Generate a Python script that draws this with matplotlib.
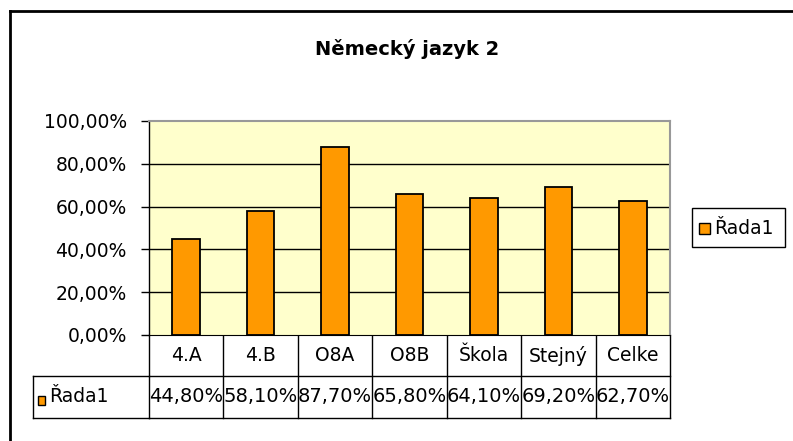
import matplotlib
matplotlib.use("Agg")
import matplotlib.pyplot as plt
from matplotlib.transforms import blended_transform_factory
from matplotlib.patches import Rectangle
from matplotlib.ticker import FuncFormatter

title = "Německý jazyk 2"
categories = ["4.A", "4.B", "O8A", "O8B", "Škola", "Stejný", "Celke"]
values = [44.80, 58.10, 87.70, 65.80, 64.10, 69.20, 62.70]
series_name = "Řada1"
y_ticks = [0, 20, 40, 60, 80, 100]

W, H = 793, 441
plt.rcParams['font.family'] = ['DejaVu Sans']
fig = plt.figure(figsize=(W / 100, H / 100), dpi=100)
fig.patch.set_facecolor("white")

# overlay in pixel coordinates
ov = fig.add_axes([0, 0, 1, 1], zorder=0)
ov.set_xlim(0, W)
ov.set_ylim(H, 0)
ov.axis("off")
ov.patch.set_alpha(0)

# plot area
px_l, px_r, px_t, px_b = 149, 670, 121, 335
ax = fig.add_axes([px_l / W, (H - px_b) / H, (px_r - px_l) / W, (px_b - px_t) / H], zorder=1)
ax.set_facecolor("#FFFFCC")
n = len(categories)
ax.set_xlim(-0.5, n - 0.5)
ax.set_ylim(0, 100)
ax.set_yticks(y_ticks)
ax.yaxis.set_major_formatter(FuncFormatter(lambda v, p: f"{v:.2f}".replace(".", ",") + "%"))
ax.tick_params(axis="y", length=6, width=1, color="black", labelsize=13.5, pad=10, labelcolor="black")
ax.set_xticks([])
for yv in y_ticks[1:-1]:
    ax.axhline(yv, color="black", lw=1, zorder=1)
ax.bar(range(n), values, width=0.37, color="#FF9900", edgecolor="black", linewidth=1.3, zorder=2)
ax.spines["left"].set_color("black")
ax.spines["left"].set_linewidth(1)
ax.spines["top"].set_color("#999999")
ax.spines["right"].set_color("#999999")
ax.spines["top"].set_linewidth(1.5)
ax.spines["right"].set_linewidth(1.5)
ax.spines["bottom"].set_color("black")

# outer frame
ov.plot([10, 10], [H + 5, 11], color="black", lw=2)
ov.plot([10, W + 5], [11, 11], color="black", lw=2)

# title
ov.text(407, 49, title, ha="center", va="center", fontsize=14, fontweight="bold")

# data table
tr = blended_transform_factory(ax.transData, ov.transData)
row1_t, row1_b, row2_b = 335, 376, 418
hdr_l = 33
for i in range(n + 1):
    xb = i - 0.5
    ov.plot([xb, xb], [row1_t, row2_b], color="black", lw=1, transform=tr, clip_on=False)
ov.plot([-0.5, n - 0.5], [row1_b, row1_b], color="black", lw=1, transform=tr, clip_on=False)
ov.plot([-0.5, n - 0.5], [row2_b, row2_b], color="black", lw=1, transform=tr, clip_on=False)
ov.plot([hdr_l, px_l], [row1_b, row1_b], color="black", lw=1)
ov.plot([hdr_l, px_l], [row2_b, row2_b], color="black", lw=1)
ov.plot([hdr_l, hdr_l], [row1_b, row2_b], color="black", lw=1)
for i, (c, v) in enumerate(zip(categories, values)):
    ov.text(i, (row1_t + row1_b) / 2, c, transform=tr, ha="center", va="center", fontsize=13.5)
    ov.text(i, (row1_b + row2_b) / 2, f"{v:.2f}".replace(".", ",") + "%", transform=tr,
            ha="center", va="center", fontsize=14)
ov.add_patch(Rectangle((38, 396), 7, 9, facecolor="#FF9900", edgecolor="black", lw=1))
ov.text(49, (row1_b + row2_b) / 2, series_name, ha="left", va="center", fontsize=13.5)

# legend
ov.add_patch(Rectangle((692, 208), 93, 39, facecolor="white", edgecolor="black", lw=1))
ov.add_patch(Rectangle((699, 223), 11, 11, facecolor="#FF9900", edgecolor="black", lw=1))
ov.text(714, 228, series_name, ha="left", va="center", fontsize=13.5)

fig.savefig("out.png", dpi=100)
